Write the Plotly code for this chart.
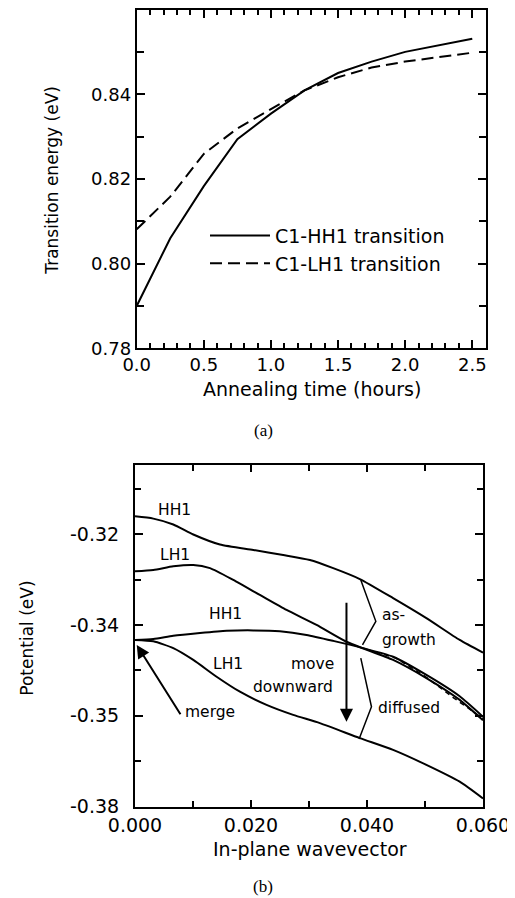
import plotly.graph_objects as go

# ---------------- Panel (a) data ----------------
hh1_time = [0.0, 0.25, 0.5, 0.75, 1.0, 1.25, 1.5, 1.75, 2.0, 2.5]
hh1_energy = [0.790, 0.806, 0.8183, 0.8294, 0.8354, 0.8409, 0.8450, 0.8477, 0.8500, 0.8531]
lh1_time = [0.0, 0.06, 0.25, 0.5, 0.75, 1.0, 1.25, 1.5, 1.75, 2.0, 2.5]
lh1_energy = [0.8081, 0.8099, 0.8158, 0.8259, 0.8319, 0.8365, 0.8409, 0.8440, 0.8463, 0.8477, 0.8498]
a_xtick_vals = [0.0, 0.5, 1.0, 1.5, 2.0, 2.5]
a_xtick_text = ["0.0", "0.5", "1.0", "1.5", "2.0", "2.5"]
a_ytick_vals = [0.78, 0.80, 0.82, 0.84]
a_ytick_text = ["0.78", "0.80", "0.82", "0.84"]

# ---------------- Panel (b) data ----------------
k_hh1_grown = [0, .00316, .0066, .01005, .01464, .0204, .02555, .03015, .03417, .03876, .0445, .05024, .05598, .06]
e_hh1_grown = [-0.3161, -0.3166, -0.3179, -0.3201, -0.3223, -0.3235, -0.3246, -0.3257, -0.3275, -0.3299,
               -0.3341, -0.3385, -0.3433, -0.3461]
k_lh1_grown = [0, .00316, .0066, .01005, .01292, .01694, .02153, .02613, .0313, .03646, .0445, .05024, .05598, .06]
e_lh1_grown = [-0.3282, -0.3279, -0.3271, -0.3268, -0.3275, -0.3301, -0.3334, -0.3367, -0.3400, -0.3437,
               -0.3477, -0.3517, -0.3565, -0.3610]
k_hh1_diff = [0, .00316, .0066, .0112, .0158, .0204, .02498, .02957, .03417, .03933, .0445, .05024, .05598, .06]
e_hh1_diff = [-0.3433, -0.3431, -0.3424, -0.3418, -0.3413, -0.3412, -0.3414, -0.3422, -0.3435, -0.3451,
              -0.3470, -0.3510, -0.3557, -0.3602]
k_lh1_diff = [0, .00316, .0066, .01005, .01407, .01809, .02268, .02727, .03187, .03876, .0445, .05024, .05598, .06]
e_lh1_diff = [-0.3433, -0.3436, -0.3451, -0.3477, -0.3514, -0.3547, -0.3576, -0.3598, -0.3616, -0.3649,
              -0.3675, -0.3708, -0.3745, -0.3782]
k_band = [0.040, 0.045, 0.050, 0.055, 0.060]
e_band = [-0.3454, -0.3473, -0.3513, -0.3561, -0.3606]
k_bracket_grown = [0.03893, 0.04152, 0.03922]
e_bracket_grown = [-0.3301, -0.3392, -0.3444]
k_bracket_diff = [0.03893, 0.04077, 0.03864]
e_bracket_diff = [-0.3473, -0.3580, -0.3651]
b_xtick_vals = [0.0, 0.02, 0.04, 0.06]
b_xtick_text = ["0.000", "0.020", "0.040", "0.060"]
b_ytick_vals = [-0.38, -0.36, -0.34, -0.32]
b_ytick_text = ["-0.38", "-0.35", "-0.34", "-0.32"]

FONT = "DejaVu Sans"
W, H, OFF = 515, 898, 8   # the page body adds an 8px margin around the figure


def px(x):
    return (x - OFF) / W


def py(y):
    return min(1.0, 1 - (y - OFF) / H)


fig = go.Figure()

fig.add_trace(go.Scatter(x=hh1_time, y=hh1_energy, mode="lines", name="C1-HH1 transition",
                         line=dict(color="black", width=2), xaxis="x", yaxis="y"))
fig.add_trace(go.Scatter(x=lh1_time, y=lh1_energy, mode="lines", name="C1-LH1 transition",
                         line=dict(color="black", width=2, dash="12px,6px"), xaxis="x", yaxis="y"))

for kx, ey in [(k_hh1_grown, e_hh1_grown), (k_lh1_grown, e_lh1_grown),
               (k_hh1_diff, e_hh1_diff), (k_lh1_diff, e_lh1_diff)]:
    fig.add_trace(go.Scatter(x=kx, y=ey, mode="lines", showlegend=False,
                             line=dict(color="black", width=2, shape="spline", smoothing=0.6),
                             xaxis="x2", yaxis="y2"))
fig.add_trace(go.Scatter(x=k_band, y=e_band, mode="lines", showlegend=False,
                         line=dict(color="black", width=1.5, dash="5px,4px"), xaxis="x2", yaxis="y2"))
for kx, ey in [(k_bracket_grown, e_bracket_grown), (k_bracket_diff, e_bracket_diff)]:
    fig.add_trace(go.Scatter(x=kx, y=ey, mode="lines", showlegend=False,
                             line=dict(color="black", width=1.5), xaxis="x2", yaxis="y2"))

axis_common = dict(showline=True, linecolor="black", linewidth=2, mirror="ticks",
                   ticks="inside", tickcolor="black", tickwidth=1.5, showgrid=False, zeroline=False,
                   automargin=False)

fig.update_layout(
    width=W, height=H,
    margin=dict(l=0, r=0, t=0, b=0),
    paper_bgcolor="white", plot_bgcolor="white",
    font=dict(family=FONT, color="black"),
    xaxis=dict(domain=[px(136.7), px(485.7)], range=[0, 2.6], anchor="y",
               tickmode="array", tickvals=a_xtick_vals, ticktext=a_xtick_text, ticklen=8,
               tickfont=dict(family=FONT, size=18, color="black"), ticklabelstandoff=-1,
               minor=dict(tickmode="linear", dtick=0.1, tick0=0, ticks="inside", ticklen=5, tickwidth=1.5, tickcolor="black"),
               **axis_common),
    yaxis=dict(domain=[py(348.3), py(9.5)], range=[0.78, 0.86], anchor="x",
               tickmode="array", tickvals=a_ytick_vals, ticktext=a_ytick_text, ticklen=8,
               tickfont=dict(family=FONT, size=18, color="black"), ticklabelstandoff=0,
               minor=dict(tickmode="linear", dtick=0.01, tick0=0.78, ticks="inside", ticklen=7, tickwidth=1.5, tickcolor="black"),
               **axis_common),
    xaxis2=dict(domain=[px(135), px(483)], range=[0, 0.06], anchor="y2",
                tickmode="array", tickvals=b_xtick_vals, ticktext=b_xtick_text, ticklen=7,
                tickfont=dict(family=FONT, size=19, color="black"), ticklabelstandoff=0,
                minor=dict(tickmode="linear", dtick=0.01, tick0=0, ticks="inside", ticklen=6, tickwidth=1.5, tickcolor="black"),
                **axis_common),
    yaxis2=dict(domain=[py(806.7), py(465)], range=[-0.38, -0.3048], anchor="x2",
                tickmode="array", tickvals=b_ytick_vals, ticktext=b_ytick_text, ticklen=8,
                tickfont=dict(family=FONT, size=19, color="black"), ticklabelstandoff=10,
                minor=dict(tickmode="linear", dtick=0.01, tick0=-0.38, ticks="inside", ticklen=6, tickwidth=1.5, tickcolor="black"),
                **axis_common),
    legend=dict(x=px(205), y=py(249.7), xanchor="left", yanchor="middle", bgcolor="rgba(0,0,0,0)",
                font=dict(family=FONT, size=19, color="black"), itemwidth=60, tracegroupgap=0),
)

ann = []
ann.append(dict(text="Annealing time (hours)", x=px(312), y=py(389), xref="paper", yref="paper",
                showarrow=False, font=dict(family=FONT, size=19), xanchor="center", yanchor="middle"))
ann.append(dict(text="Transition energy (eV)", x=px(51.7), y=py(180), xref="paper", yref="paper",
                showarrow=False, textangle=-90, font=dict(family=FONT, size=17), xanchor="center", yanchor="middle"))
ann.append(dict(text="(a)", x=px(263), y=py(430), xref="paper", yref="paper",
                showarrow=False, font=dict(family="Liberation Serif", size=17), xanchor="center", yanchor="middle"))
ann.append(dict(text="In-plane wavevector", x=px(310), y=py(849), xref="paper", yref="paper",
                showarrow=False, font=dict(family=FONT, size=19), xanchor="center", yanchor="middle"))
ann.append(dict(text="Potential (eV)", x=px(26.7), y=py(638), xref="paper", yref="paper",
                showarrow=False, textangle=-90, font=dict(family=FONT, size=17), xanchor="center", yanchor="middle"))
ann.append(dict(text="(b)", x=px(263), y=py(886), xref="paper", yref="paper",
                showarrow=False, font=dict(family="Liberation Serif", size=17), xanchor="center", yanchor="middle"))

lab_font = dict(family=FONT, size=15.5, color="black")
for txt, x, y, xa in [("HH1", 0.00689, -0.3146, "center"), ("LH1", 0.00689, -0.3245, "center"),
                      ("HH1", 0.01568, -0.3376, "center"), ("LH1", 0.01596, -0.3486, "center"),
                      ("move", 0.03463, -0.3486, "right"), ("downward", 0.03445, -0.3537, "right"),
                      ("merge", 0.00821, -0.3592, "left"), ("as-", 0.0422, -0.3378, "left"),
                      ("growth", 0.0422, -0.3433, "left"), ("diffused", 0.04163, -0.3582, "left")]:
    ann.append(dict(text=txt, x=x, y=y, xref="x2", yref="y2", showarrow=False, font=lab_font,
                    xanchor=xa, yanchor="middle"))

ann.append(dict(text="", x=0.0003, y=-0.3444, ax=0.0080, ay=-0.3600, xref="x2", yref="y2",
                axref="x2", ayref="y2", showarrow=True, arrowhead=2, arrowsize=1.3, arrowwidth=2,
                arrowcolor="black"))
ann.append(dict(text="", x=0.03646, y=-0.3613, ax=0.03646, ay=-0.3348, xref="x2", yref="y2",
                axref="x2", ayref="y2", showarrow=True, arrowhead=2, arrowsize=1.3, arrowwidth=2,
                arrowcolor="black"))

fig.update_layout(annotations=ann)
fig.write_html("out.html")
